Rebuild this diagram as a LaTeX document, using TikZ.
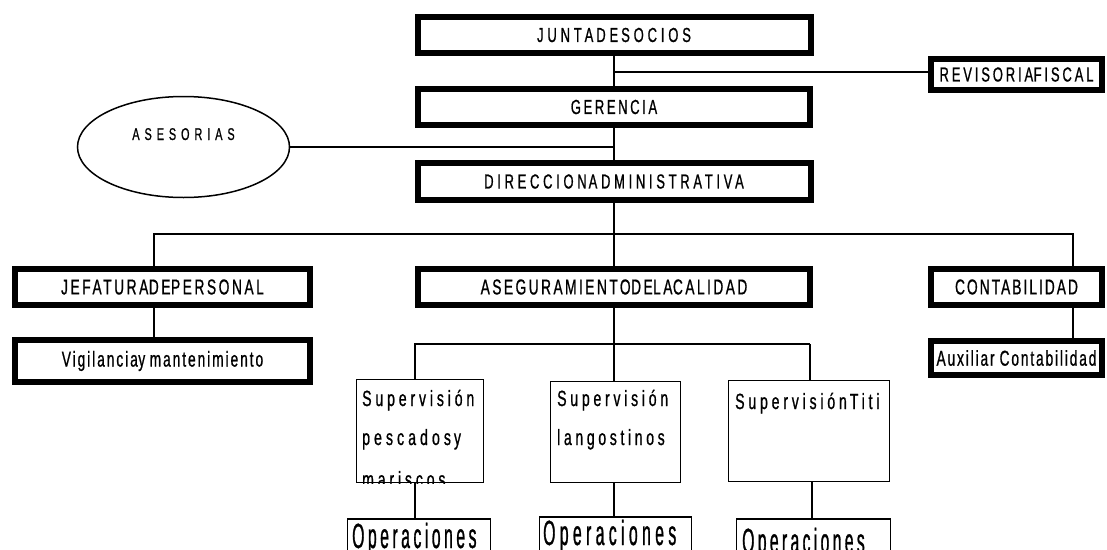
\documentclass[tikz,border=0pt]{standalone}
\usepackage{fontspec}
\usetikzlibrary{shapes.geometric,calc}
\newfontfamily\orgf[FakeStretch=0.64,FakeBold=0.8]{Liberation Sans}
\newfontfamily\tallf[FakeStretch=0.45,FakeBold=0.8]{Liberation Sans}
\newcommand\lsp[3]{{\addfontfeature{LetterSpace=#1}\spaceskip=#2pt\relax #3}}
\begin{document}
\begin{tikzpicture}[x=1pt,y=-1pt,
  thickbox/.style={draw, line width=6pt, inner sep=0pt, font=\orgf\fontsize{20.3}{24}\selectfont},
  lowbox/.style={thickbox, font=\orgf\fontsize{21.5}{25}\selectfont},
  thinbox/.style={draw, line width=1.5pt, inner sep=0pt},
  lbl/.style={inner sep=0pt, anchor=base west, font=\orgf\fontsize{22}{26}\selectfont},
  oplbl/.style={inner sep=0pt, anchor=base west, font=\tallf\fontsize{35}{40}\selectfont},
  conn/.style={line width=1.5pt},
  bus/.style={line width=2pt},
  heavy/.style={line width=2.8pt}]
\useasboundingbox (0,0) rectangle (1107,549);
\clip (0,0) rectangle (1107,549);

% thick-framed boxes
\node[thickbox, minimum width=393pt, minimum height=36pt] (junta) at (614,35) {\lsp{18.9}{3}{JUNTA DE SOCIOS}};
\node[thickbox, minimum width=392pt, minimum height=36pt] (ger) at (614,107) {\lsp{13}{2}{GERENCIA}};
\node[thickbox, minimum width=393pt, minimum height=37pt] (dir) at (614,181.5) {\lsp{18.2}{2}{DIRECCION ADMINISTRATIVA}};
\node[thickbox, minimum width=171pt, minimum height=31pt] (rev) at (1016.5,74.5) {\lsp{14.1}{0.5}{REVISORIA FISCAL}};
\node[lowbox, minimum width=295pt, minimum height=36pt] (jef) at (162.5,287) {\lsp{11.9}{0.5}{JEFATURA DE PERSONAL}};
\node[lowbox, minimum width=295pt, minimum height=42pt] (vig) at (162.5,361) {\lsp{9}{0.5}{Vigilancia y\hspace{4pt} mantenimiento}};
\node[lowbox, minimum width=392pt, minimum height=36pt] (aseg) at (614,287) {\lsp{11.4}{0.5}{ASEGURAMIENTO DE LA CALIDAD}};
\node[lowbox, minimum width=171pt, minimum height=36pt] (cont) at (1016.5,287) {\lsp{9.4}{1}{CONTABILIDAD}};
\node[lowbox, minimum width=171pt, minimum height=34pt] (aux) at (1016.5,358) {\lsp{8.6}{5}{Auxiliar Contabilidad}};

% ellipse
\node[draw, ellipse, line width=1.5pt, minimum width=212pt, minimum height=101pt, inner sep=0pt,
      font=\orgf\fontsize{17}{20}\selectfont, text height=12pt, text depth=26pt] (ases) at (183.5,147) {\lsp{29}{1}{ASESORIAS}};

% supervision boxes
\node[thinbox, minimum width=127pt, minimum height=103pt] (pesc) at (420,431) {};
\node[thinbox, minimum width=130pt, minimum height=101pt] (lang) at (615.5,432) {};
\node[thinbox, minimum width=161pt, minimum height=101pt] (titi) at (809,431) {};

% operaciones boxes (cut by the page edge)
\node[thinbox, minimum width=143pt, minimum height=80pt] (opp) at (419,558.75) {};
\node[thinbox, minimum width=152pt, minimum height=80pt] (opl) at (615.5,556.75) {};
\node[thinbox, minimum width=154pt, minimum height=80pt] (opt) at (813.5,558.75) {};

% texts of the supervision boxes
\begin{scope}
  \clip (pesc.north west) rectangle (pesc.south east);
  \node[lbl] (t1a) at (362,406) {\lsp{17.5}{2}{Supervisión}};
  \node[lbl] (t1b) at (362,445) {\lsp{18.5}{3}{pescados y}};
  \node[lbl] (t1c) at (362,487) {\lsp{17.5}{2}{mariscos}};
\end{scope}
\node[lbl] (t2a) at (557,406) {\lsp{17}{2}{Supervisión}};
\node[lbl] (t2b) at (557,445) {\lsp{16.5}{2}{langostinos}};
\node[lbl] (t3a) at (735,409) {\lsp{17.3}{3}{Supervisión Titi}};
\node[oplbl] (t4a) at (352,548) {\lsp{10}{2}{Operaciones}};
\node[oplbl] (t4b) at (543,545) {\lsp{12.5}{2}{Operaciones}};
\node[oplbl] (t4c) at (742,553) {\lsp{9.5}{2}{Operaciones}};

% connectors
\coordinate (jr) at (614,72);
\draw[conn] (junta.south) -- (ger.north);
\draw[conn] (jr) -- (jr -| rev.west);
\draw[conn] (ger.south) -- (dir.north);
\draw[conn] (ases.east) -- (ases.east -| ger.south);

\coordinate (b1L) at (154,234);
\coordinate (b1R) at (1073,234);
\draw[conn] (dir.south) -- (aseg.north);
\draw[bus] (b1L |- jef.north) -- (b1L) -- (b1R) -- (b1R |- cont.north);
\draw[conn] (b1L |- jef.south) -- (b1L |- vig.north);
\draw[heavy] (b1R |- cont.south) -- (b1R |- aux.north);

\coordinate (b2L) at (415,344);
\coordinate (b2M) at (614,344);
\coordinate (b2R) at (810,344);
\coordinate (tx) at (812,500);
\draw[conn] (aseg.south) -- (b2M) -- (b2M |- lang.north);
\draw[heavy] (b2L |- pesc.north) -- (b2L) -- (b2R);
\draw[conn] (b2R) -- (b2R |- titi.north);
\draw[heavy] (b2L |- pesc.south) -- (b2L |- opp.north);
\draw[conn] (b2M |- lang.south) -- (b2M |- opl.north);
\draw[conn] (tx |- titi.south) -- (tx |- opt.north);
\end{tikzpicture}
\end{document}
